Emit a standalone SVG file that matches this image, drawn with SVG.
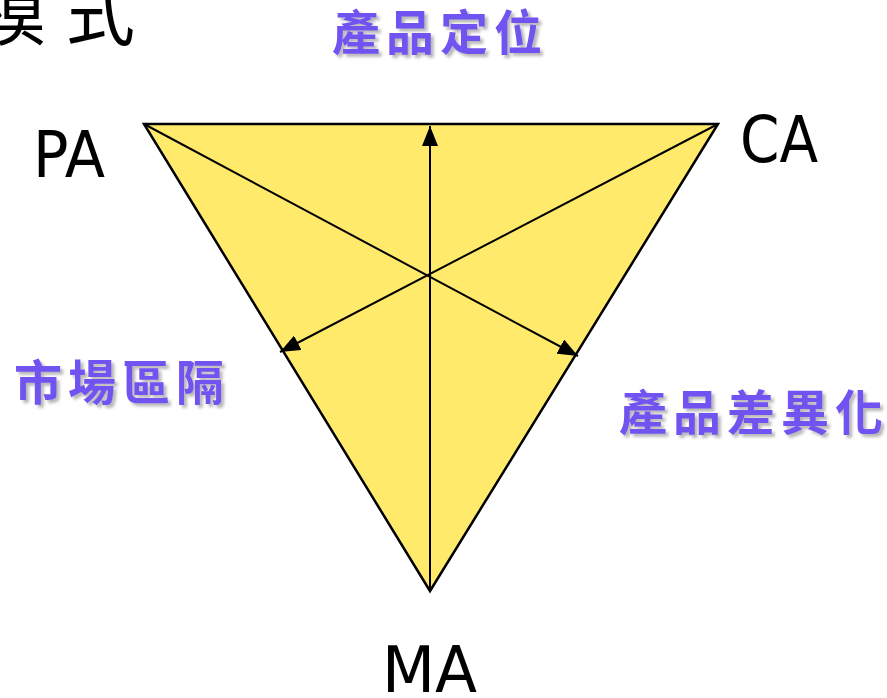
<svg xmlns="http://www.w3.org/2000/svg" width="887" height="698" viewBox="0 0 887 698">
<defs>
<style>
.lbl{font-family:"Comic Sans MS","DejaVu Sans",sans-serif;font-size:64px;fill:#000}
.cn{font-family:"Noto Sans CJK TC","Noto Sans CJK SC",sans-serif;font-size:48px;font-weight:bold;fill:#7052F0;letter-spacing:6px;filter:url(#sh)}
.ln{stroke:#000;stroke-width:2;fill:none}
.ti{font-family:"Noto Sans CJK TC","Noto Sans CJK SC",sans-serif;font-size:70px;fill:#000}
</style>
<filter id="sh" x="-10%" y="-20%" width="130%" height="160%">
<feDropShadow dx="3" dy="3" stdDeviation="1.5" flood-color="#999" flood-opacity="0.7"/>
</filter>
<marker id="ah" viewBox="0 0 20 16" refX="20" refY="8" markerWidth="20" markerHeight="16" markerUnits="userSpaceOnUse" orient="auto">
<path d="M0,0 L20,8 L0,16 Z" fill="#000"/>
</marker>
</defs>
<rect width="887" height="698" fill="#fff"/>
<g id="title">
<text class="ti" x="-24" y="40">模</text>
<text class="ti" x="65" y="40">式</text>
</g>
<g id="triangle">
<polygon points="144,124 718,124 430,591" fill="#FFEA6B" stroke="#000" stroke-width="2.5"/>
</g>
<g id="connectors">
<line class="ln" x1="430" y1="591" x2="430" y2="126" marker-end="url(#ah)"/>
<line class="ln" x1="144" y1="124" x2="578" y2="356" marker-end="url(#ah)"/>
<line class="ln" x1="718" y1="124" x2="280" y2="352" marker-end="url(#ah)"/>
</g>
<g id="PA"><text class="lbl" x="33" y="177" textLength="72" lengthAdjust="spacingAndGlyphs">PA</text></g>
<g id="CA"><text class="lbl" x="740" y="162" textLength="78" lengthAdjust="spacingAndGlyphs">CA</text></g>
<g id="MA"><text class="lbl" x="382" y="692" textLength="95" lengthAdjust="spacingAndGlyphs">MA</text></g>
<g id="pos"><text class="cn" x="332" y="50">產品定位</text></g>
<g id="seg"><text class="cn" x="14" y="400">市場區隔</text></g>
<g id="diff"><text class="cn" x="619" y="430">產品差異化</text></g>
</svg>
